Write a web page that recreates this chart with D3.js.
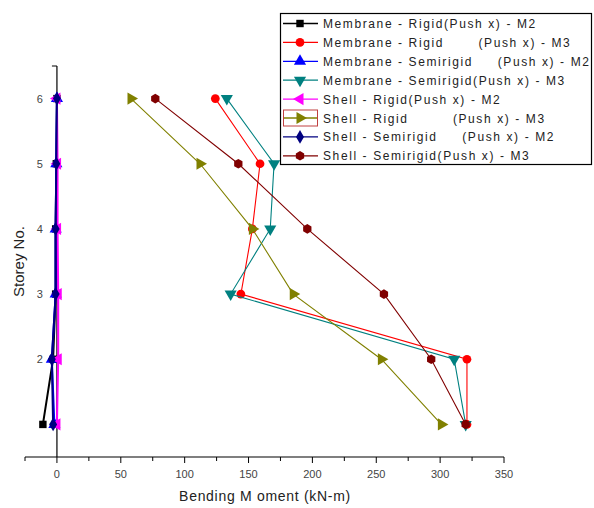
<!DOCTYPE html>
<html><head><meta charset="utf-8">
<script src="https://cdn.jsdelivr.net/npm/d3@7"></script>
<style>
body{margin:0;background:#fff;}
svg{display:block;font-family:"Liberation Sans",Arial,sans-serif;}
text{white-space:pre;}
</style></head>
<body><svg id="c" width="594" height="508"></svg>
<script>
const storeys = [1, 2, 3, 4, 5, 6];
const seriesNames = [
  "Membrane - Rigid(Push x) - M2",
  "Membrane - Rigid       (Push x) - M3",
  "Membrane - Semirigid     (Push x) - M2",
  "Membrane - Semirigid(Push x) - M3",
  "Shell - Rigid(Push x) - M2",
  "Shell - Rigid         (Push x) - M3",
  "Shell - Semirigid     (Push x) - M2",
  "Shell - Semirigid(Push x) - M3"
];
const memRigidM2 = [-11, -3, -1, -1, -0.5, 0];
const memRigidM3 = [321, 321, 144, 153, 159, 124];
const memSemiM2 = [-2, -4, -1, -1, -0.5, 0];
const memSemiM3 = [320, 311, 136, 167, 170, 133];
const shellRigidM2 = [0, 1, 1, 0.5, 0.5, 0];
const shellRigidM3 = [301, 254, 185, 153, 112, 58];
const shellSemiM2 = [-3, -4, -1, -1, -0.5, 0];
const shellSemiM3 = [320, 293, 256, 196, 142, 77];
const xTicks = [0, 50, 100, 150, 200, 250, 300, 350];
const xMinorTicks = [-25, 25, 75, 125, 175, 225, 275, 325];
const yTicks = [2, 3, 4, 5, 6];

const values = [memRigidM2, memRigidM3, memSemiM2, memSemiM3, shellRigidM2, shellRigidM3, shellSemiM2, shellSemiM3];
const colors = ["#000000", "#ff0000", "#0000ff", "#008080", "#ff00ff", "#808000", "#000080", "#800000"];
const shapes = ["square", "circle", "triUp", "triDown", "triLeft", "triRight", "diamond", "hex"];

const svg = d3.select("#c");
const x = d3.scaleLinear().domain([-25, 350]).range([25, 504]);
const y = d3.scaleLinear().domain([0.5, 6.5]).range([457, 66]);

function symPath(shape) {
  const tri = d3.symbol(d3.symbolTriangle, 64)();
  switch (shape) {
    case "square": return {d: d3.symbol(d3.symbolSquare, 55)(), r: 0};
    case "circle": return {d: d3.symbol(d3.symbolCircle, 60)(), r: 0};
    case "triUp": return {d: tri, r: 0};
    case "triDown": return {d: tri, r: 180};
    case "triLeft": return {d: tri, r: -90};
    case "triRight": return {d: tri, r: 90};
    case "diamond": return {d: d3.symbol(d3.symbolDiamond, 55)(), r: 0};
    case "hex": {
      const pts = d3.range(6).map(i => { const a = Math.PI / 3 * i + Math.PI / 6; return [4.8 * Math.cos(a), 4.8 * Math.sin(a)]; });
      return {d: "M" + pts.join("L") + "Z", r: 0};
    }
  }
}

// axes
const xAxis = svg.append("g").attr("transform", "translate(0,457)");
xAxis.append("line").attr("x1", x(-25)).attr("x2", x(350)).attr("stroke", "#000").attr("stroke-width", 1.2);
xAxis.selectAll(".maj").data(xTicks).join("line").attr("x1", d => x(d)).attr("x2", d => x(d)).attr("y1", 0).attr("y2", 6).attr("stroke", "#000");
xAxis.selectAll(".min").data(xMinorTicks).join("line").attr("class", "min").attr("x1", d => x(d)).attr("x2", d => x(d)).attr("y1", 0).attr("y2", 4).attr("stroke", "#000");
xAxis.selectAll("text").data(xTicks).join("text").attr("x", d => x(d)).attr("y", 21).attr("text-anchor", "middle").attr("font-size", 11).attr("fill", "#444").text(d => d);

const yAxis = svg.append("g");
yAxis.append("line").attr("x1", x(0)).attr("x2", x(0)).attr("y1", y(6.5)).attr("y2", y(0.5)).attr("stroke", "#000").attr("stroke-width", 1.2);
yAxis.append("line").attr("x1", x(0) - 5).attr("x2", x(0)).attr("y1", y(6.5)).attr("y2", y(6.5)).attr("stroke", "#000");
yAxis.selectAll("text").data(yTicks).join("text").attr("x", x(0) - 17).attr("y", d => y(d) + 4).attr("text-anchor", "middle").attr("font-size", 11).attr("fill", "#444").text(d => d);

svg.append("text").attr("x", 265).attr("y", 501).attr("text-anchor", "middle").attr("font-size", 14).attr("letter-spacing", 0.7).attr("fill", "#222").text("Bending M oment (kN-m)");
svg.append("text").attr("transform", `translate(24,${y(3.5)}) rotate(-90)`).attr("text-anchor", "middle").attr("font-size", 15).attr("fill", "#222").text("Storey No.");

// series
const line = d3.line().x(d => x(d[0])).y(d => y(d[1]));
values.forEach((vals, i) => {
  const pts = storeys.map((s, j) => [vals[j], s]);
  const g = svg.append("g");
  g.append("path").attr("d", line(pts)).attr("fill", "none").attr("stroke", colors[i]).attr("stroke-width", i % 2 === 0 ? 2 : 1.1);
  const sp = symPath(shapes[i]);
  g.selectAll("path.m").data(pts).join("path").attr("class", "m").attr("d", sp.d)
    .attr("transform", d => `translate(${x(d[0])},${y(d[1])}) rotate(${sp.r})`).attr("fill", colors[i]);
});

// legend
const lg = svg.append("g");
lg.append("rect").attr("x", 280.5).attr("y", 13.5).attr("width", 311).attr("height", 151).attr("fill", "#fff").attr("stroke", "#000").attr("stroke-width", 1.2);
seriesNames.forEach((name, i) => {
  const yy = 23.5 + i * 18.9;
  lg.append("line").attr("x1", 283).attr("x2", 318).attr("y1", yy).attr("y2", yy).attr("stroke", colors[i]).attr("stroke-width", 1.3);
  const sp = symPath(shapes[i]);
  lg.append("path").attr("d", sp.d).attr("transform", `translate(300,${yy}) rotate(${sp.r})`).attr("fill", colors[i]);
  lg.append("text").attr("x", 323).attr("y", yy + 4.5).attr("font-size", 12).attr("letter-spacing", 1.6).attr("fill", "#222").text(name);
  if (i === 5) lg.append("rect").attr("x", 283.5).attr("y", yy - 8).attr("width", 34).attr("height", 16).attr("fill", "none").attr("stroke", "#c04040").attr("stroke-width", 1);
});
</script></body></html>
